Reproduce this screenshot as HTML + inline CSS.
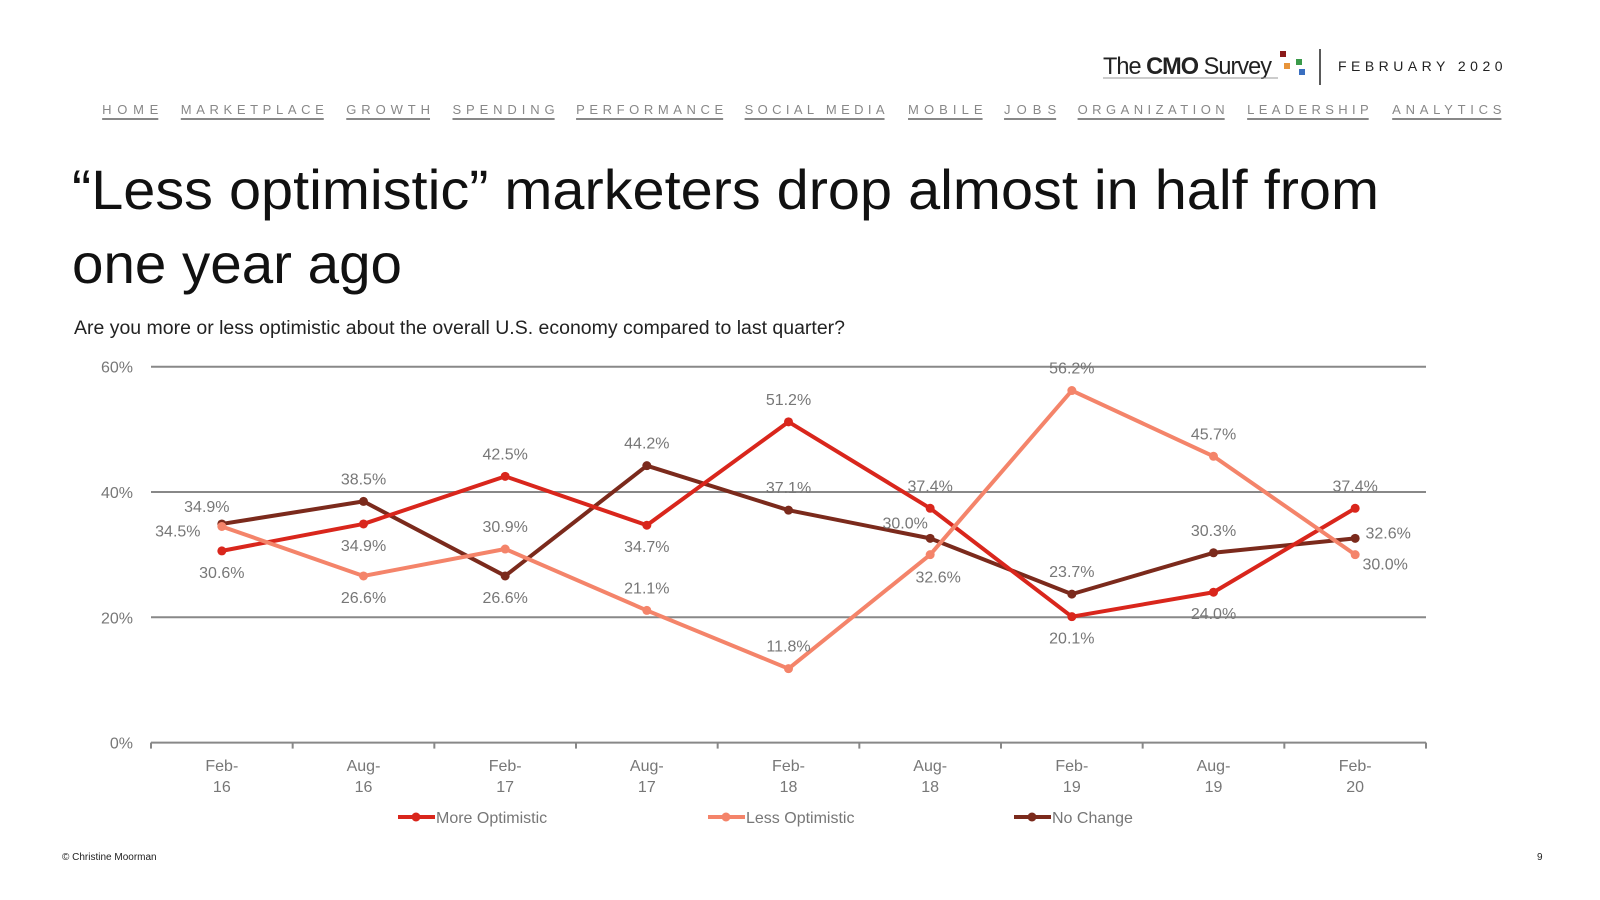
<!DOCTYPE html>
<html><head><meta charset="utf-8"><style>
html,body{margin:0;padding:0;background:#fff;}
svg{display:block;font-family:"Liberation Sans",sans-serif;}
</style></head><body>
<svg id="s" width="1600" height="900" viewBox="0 0 1600 900">
<g>
<text x="1103" y="74" font-size="24" fill="#222" letter-spacing="-1" textLength="168" lengthAdjust="spacingAndGlyphs">The <tspan font-weight="bold">CMO</tspan> Survey</text>
<line x1="1103" y1="78" x2="1278" y2="78" stroke="#999" stroke-width="1"/>
<rect x="1280" y="51" width="6" height="6" fill="#8b1a1a"/>
<rect x="1284" y="63" width="6" height="6" fill="#e8943a"/>
<rect x="1296" y="59" width="6" height="6" fill="#3a9a4a"/>
<rect x="1299" y="69" width="6" height="6" fill="#3a6fc0"/>
</g>
<line x1="1320" y1="49" x2="1320" y2="85" stroke="#222" stroke-width="1.5"/>
<text x="1338" y="71" font-size="14" fill="#222" letter-spacing="5.5" textLength="170">FEBRUARY 2020</text>
<g id="nav"></g>
<text x="72" y="209" font-size="56" fill="#111" textLength="1307" lengthAdjust="spacingAndGlyphs">“Less optimistic” marketers drop almost in half from</text>
<text x="72" y="283" font-size="56" fill="#111" textLength="330" lengthAdjust="spacingAndGlyphs">one year ago</text>
<text x="74" y="334" font-size="19" fill="#222" textLength="771" lengthAdjust="spacingAndGlyphs">Are you more or less optimistic about the overall U.S. economy compared to last quarter?</text>
<g id="chart"></g>
<text x="62" y="860" font-size="10" fill="#222">© Christine Moorman</text>
<text x="1537" y="860" font-size="10" fill="#222">9</text>
</svg>
<script>
const categoriesTop=["Feb-","Aug-","Feb-","Aug-","Feb-","Aug-","Feb-","Aug-","Feb-"];
const categoriesBottom=["16","16","17","17","18","18","19","19","20"];
const moreOptimistic=[30.6,34.9,42.5,34.7,51.2,37.4,20.1,24.0,37.4];
const lessOptimistic=[34.5,26.6,30.9,21.1,11.8,30.0,56.2,45.7,30.0];
const noChange=[34.9,38.5,26.6,44.2,37.1,32.6,23.7,30.3,32.6];
const yTicks=[0,20,40,60];
const seriesNames=["More Optimistic","Less Optimistic","No Change"];
const NS="http://www.w3.org/2000/svg";
const F=1.0214;
function mk(t,a,p){const e=document.createElementNS(NS,t);for(const k in a)e.setAttribute(k,a[k]);p.appendChild(e);return e;}
const navItems=[["HOME",100,155],["MARKETPLACE",177,317],["GROWTH",339,421],["SPENDING",443,543],["PERFORMANCE",564,708],["SOCIAL MEDIA",729,866],["MOBILE",889,962],["JOBS",983,1034],["ORGANIZATION",1055,1199],["LEADERSHIP",1221,1340],["ANALYTICS",1363,1470]];
const nav=document.getElementById('nav');
navItems.forEach(n=>{
  const a=n[1]*F,b=n[2]*F;
  const t=mk('text',{x:a,y:114,'font-size':13,fill:'#888',textLength:b-a,lengthAdjust:'spacing'},nav);
  t.textContent=n[0];
  
  
  const u=mk('line',{x1:a,x2:b,y1:119,y2:119,stroke:'#888','stroke-width':2},nav);
  
  
});
const g=document.getElementById('chart');
const X0=151,X1=1426,Y0=742.6,PPU=6.265;
const bw=(X1-X0)/categoriesTop.length;
const xs=i=>X0+bw*(i+0.5);
const ys=v=>Y0-v*PPU;
yTicks.forEach(v=>{
  if(v>0){const l=mk('line',{x1:X0,x2:X1,y1:ys(v),y2:ys(v),stroke:'#888','stroke-width':2},g);
  
  }
  const t=mk('text',{x:133,y:ys(v)+6,'font-size':16,fill:'#777','text-anchor':'end'},g);
  t.textContent=v+'%';
  
  
});
const ax=mk('line',{x1:X0,x2:X1,y1:Y0,y2:Y0,stroke:'#888','stroke-width':2},g);


for(let i=0;i<=categoriesTop.length;i++){
  const tk=mk('line',{x1:X0+bw*i,x2:X0+bw*i,y1:Y0,y2:Y0+6,stroke:'#888','stroke-width':2},g);
  
  
}
categoriesTop.forEach((c,i)=>{
  const t=mk('text',{x:xs(i),y:771,'font-size':16,fill:'#777','text-anchor':'middle'},g);
  t.textContent=c;
  
  
  const t2=mk('text',{x:xs(i),y:792,'font-size':16,fill:'#777','text-anchor':'middle'},g);
  t2.textContent=categoriesBottom[i];
  
  
});
const colors=['#d9261c','#f4846a','#7b2a1c'];
const data=[moreOptimistic,lessOptimistic,noChange];
const labelPos=[['b','b','a','b','a','a','b','b','a'],['l','b','a','a','a','al','a','a','rb'],['al','a','b','a','a','bb','a','a','r']];
const off={a:[0,-17],b:[0,27],l:[-44,10],r:[33,0],al:[-15,-12],rb:[30,15],bb:[8,44]};
const off2={al:[-25,-26]};
[2,0,1].forEach(s=>{
  const vals=data[s];
  const p=mk('polyline',{points:vals.map((v,i)=>xs(i)+','+ys(v)).join(' '),fill:'none',stroke:colors[s],'stroke-width':4,'stroke-linejoin':'round'},g);
  
  
  vals.forEach((v,i)=>{
    const c=mk('circle',{cx:xs(i),cy:ys(v),r:4.5,fill:colors[s]},g);
    
    
  });
});
data.forEach((vals,s)=>{
  vals.forEach((v,i)=>{
    const k=labelPos[s][i];
    const o=(s===1&&off2[k])?off2[k]:off[k];
    const t=mk('text',{x:xs(i)+o[0],y:ys(v)+o[1],'font-size':16,fill:'#777','text-anchor':'middle'},g);
    t.textContent=v.toFixed(1)+'%';
    
    
  });
});
const legX=[398,708,1014];
seriesNames.forEach((n,s)=>{
  const lg=mk('g',{},g);
  
  
  mk('line',{x1:legX[s],x2:legX[s]+37,y1:817,y2:817,stroke:colors[s],'stroke-width':4},lg);
  mk('circle',{cx:legX[s]+18,cy:817,r:4.5,fill:colors[s]},lg);
  const t=mk('text',{x:legX[s]+38,y:823,'font-size':16,fill:'#777'},lg);
  t.textContent=n;
});
</script>
</body></html>
